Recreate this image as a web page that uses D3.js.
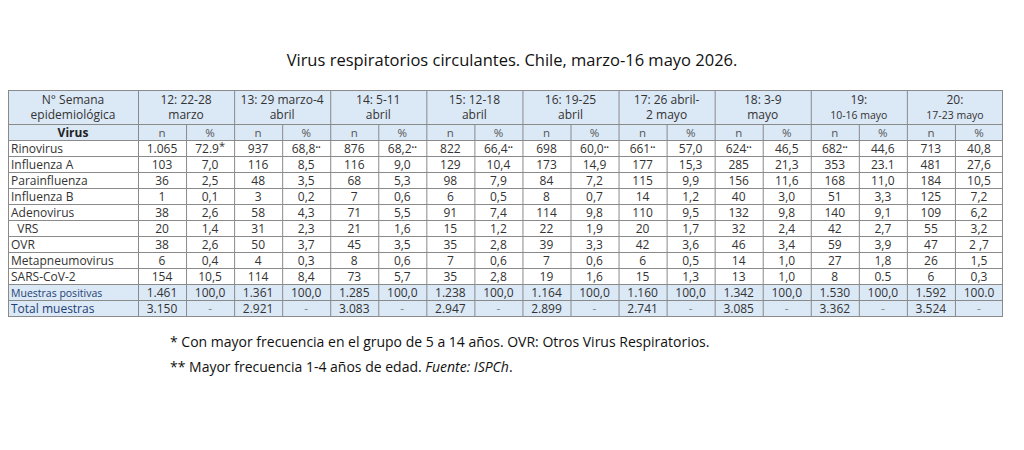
<!DOCTYPE html>
<html><head><meta charset="utf-8">
<script src="https://cdn.jsdelivr.net/npm/d3@7"></script>
<style>body{margin:0;background:#fff}svg{font-family:"Open Sans",sans-serif}</style>
</head><body><svg width="1024" height="450"></svg>
<script>
var weeks = [["12:  22-28","marzo"],["13: 29 marzo-4","abril"],["14: 5-11","abril"],["15: 12-18","abril"],
  ["16: 19-25","abril"],["17: 26 abril-","2 mayo"],["18: 3-9","mayo"],["19:","10-16 mayo"],["20:","17-23 mayo"]];
var viruses = ["Rinovirus","Influenza A","Parainfluenza","Influenza B","Adenovirus","  VRS","OVR","Metapneumovirus","SARS-CoV-2","Muestras positivas","Total muestras"];
// each row: n and % per week
var nVals = [
  ["1.065","937","876","822","698","661••","624••","682••","713"],
  ["103","116","116","129","173","177","285","353","481"],
  ["36","48","68","98","84","115","156","168","184"],
  ["1","3","7","6","8","14","40","51","125"],
  ["38","58","71","91","114","110","132","140","109"],
  ["20","31","21","15","22","20","32","42","55"],
  ["38","50","45","35","39","42","46","59","47"],
  ["6","4","8","7","7","6","14","27","26"],
  ["154","114","73","35","19","15","13","8","6"],
  ["1.461","1.361","1.285","1.238","1.164","1.160","1.342","1.530","1.592"],
  ["3.150","2.921","3.083","2.947","2.899","2.741","3.085","3.362","3.524"]];
var pVals = [
  ["72.9*","68,8••","68,2••","66,4••","60,0••","57,0","46,5","44,6","40,8"],
  ["7,0","8,5","9,0","10,4","14,9","15,3","21,3","23.1","27,6"],
  ["2,5","3,5","5,3","7,9","7,2","9,9","11,6","11,0","10,5"],
  ["0,1","0,2","0,6","0,5","0,7","1,2","3,0","3,3","7,2"],
  ["2,6","4,3","5,5","7,4","9,8","9,5","9,8","9,1","6,2"],
  ["1,4","2,3","1,6","1,2","1,9","1,7","2,4","2,7","3,2"],
  ["2,6","3,7","3,5","2,8","3,3","3,6","3,4","3,9","2 ,7"],
  ["0,4","0,3","0,6","0,6","0,6","0,5","1,0","1,8","1,5"],
  ["10,5","8,4","5,7","2,8","1,6","1,3","1,0","0.5","0,3"],
  ["100,0","100,0","100,0","100,0","100,0","100,0","100,0","100,0","100.0"],
  ["-","-","-","-","-","-","-","-","-"]];

function drawTable() {
  var svg = d3.select("svg");
  var x0 = 8, labelW = 130, x1 = 1003, y0 = 90, headH = 34, rowH = 16;
  var blue = "#dbe8f6", line = "#8a8a8a", txt = "#333";

  var subCols = d3.range(weeks.length * 2);
  var x = d3.scaleBand().domain(subCols).range([x0 + labelW, x1]);
  var rows = d3.range(viruses.length + 1);
  var y = d3.scaleBand().domain(rows).range([y0 + headH, y0 + headH + rows.length * rowH]);
  var y1 = y(rows.length - 1) + rowH;

  svg.append("text").attr("x", 512).attr("y", 66).attr("text-anchor", "middle")
    .attr("font-size", 16.5).attr("fill", "#111")
    .text("Virus respiratorios circulantes. Chile, marzo-16 mayo 2026.");

  svg.append("rect").attr("x", x0).attr("y", y0).attr("width", x1 - x0).attr("height", headH + rowH).attr("fill", blue);
  svg.append("rect").attr("x", x0).attr("y", y(10)).attr("width", x1 - x0).attr("height", rowH * 2).attr("fill", blue);

  svg.append("text").attr("x", x0 + labelW / 2).attr("y", y0 + 14).attr("text-anchor", "middle").attr("font-size", 12).attr("fill", txt).text("N° Semana");
  svg.append("text").attr("x", x0 + labelW / 2).attr("y", y0 + 29).attr("text-anchor", "middle").attr("font-size", 12).attr("fill", txt).text("epidemiológica");
  weeks.forEach(function (w, i) {
    var cx = x(i * 2) + x.bandwidth();
    w.forEach(function (t, j) {
      var small = i >= 7 && j == 1;
      svg.append("text").attr("x", cx).attr("y", y0 + 14 + j * 15).attr("text-anchor", "middle")
        .attr("font-size", small ? 10.5 : 12).attr("fill", txt).text(t);
    });
  });
  svg.append("text").attr("x", x0 + labelW / 2).attr("y", y(0) + 12.5).attr("text-anchor", "middle").attr("font-size", 12).attr("font-weight", "bold").attr("fill", "#222").text("Virus");
  subCols.forEach(function (c) {
    svg.append("text").attr("x", x(c) + x.bandwidth() / 2).attr("y", y(0) + 12.5).attr("text-anchor", "middle")
      .attr("font-size", 11.5).attr("fill", "#555").text(c % 2 ? "%" : "n");
  });

  viruses.forEach(function (v, r) {
    var yy = y(r + 1) + 12.5;
    svg.append("text").attr("x", x0 + 3).attr("y", yy).attr("font-size", r == 9 ? 10.5 : 12)
      .attr("fill", r >= 9 ? "#1f3f73" : txt).attr("xml:space", "preserve").text(v);
    weeks.forEach(function (w, i) {
      [nVals[r][i], pVals[r][i]].forEach(function (val, k) {
        var t = svg.append("text").attr("x", x(i * 2 + k) + x.bandwidth() / 2).attr("y", yy)
          .attr("text-anchor", "middle").attr("font-size", 12).attr("fill", r >= 10 && k ? "#888" : txt);
        var m = val.match(/^(.*?)(••|\*)?$/);
        t.append("tspan").text(m[1]);
        if (m[2]) t.append("tspan").attr("font-size", m[2] == "*" ? 11 : 7).attr("dy", -3).text(m[2]);
      });
    });
  });

  var g = svg.append("g").attr("stroke", line).attr("stroke-width", 1);
  rows.forEach(function (r) {
    g.append("line").attr("x1", x0).attr("x2", x1).attr("y1", y(r) + .5).attr("y2", y(r) + .5);
  });
  [y0, y1].forEach(function (yy) {
    g.append("line").attr("x1", x0).attr("x2", x1).attr("y1", yy + .5).attr("y2", yy + .5);
  });
  [x0 + .5, x1 - .5].forEach(function (xx) {
    g.append("line").attr("x1", xx).attr("x2", xx).attr("y1", y0).attr("y2", y1);
  });
  subCols.forEach(function (c) {
    g.append("line").attr("x1", x(c) + .5).attr("x2", x(c) + .5)
      .attr("y1", c % 2 ? y0 + headH : y0).attr("y2", y1);
  });

  svg.append("text").attr("x", 170).attr("y", 347).attr("font-size", 14).attr("fill", "#111")
    .text("* Con mayor frecuencia en el grupo de 5 a 14 años. OVR: Otros Virus Respiratorios.");
  var f = svg.append("text").attr("x", 170).attr("y", 372).attr("font-size", 14).attr("fill", "#111");
  f.append("tspan").text("** Mayor frecuencia 1-4 años de edad. ");
  f.append("tspan").attr("font-style", "italic").text("Fuente: ISPCh");
  f.append("tspan").text(".");
}
drawTable();
</script></body></html>
